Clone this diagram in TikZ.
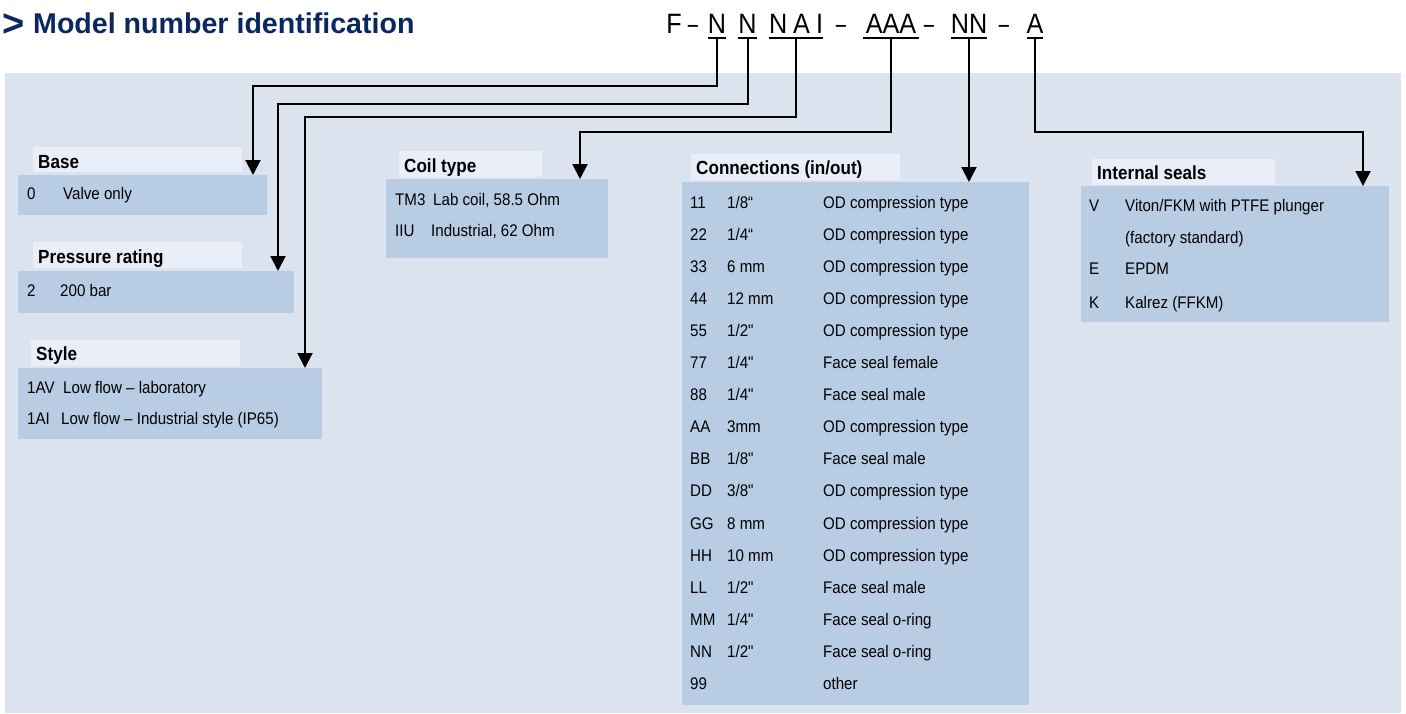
\documentclass[tikz,border=0pt]{standalone}
\usepackage{fontspec}
\setmainfont{Liberation Sans}
\newfontfamily\narrowfont[FakeStretch=0.9]{Liberation Sans}
\newfontfamily\codefont[FakeStretch=0.9]{Liberation Sans}
\newfontfamily\dashfont[FakeStretch=0.65]{Liberation Sans}
\usetikzlibrary{arrows.meta}
\definecolor{panelc}{RGB}{219,227,239}
\definecolor{boxc}{RGB}{184,204,228}
\definecolor{titlec}{RGB}{233,238,248}
\definecolor{navy}{RGB}{10,40,95}
\begin{document}
\begin{tikzpicture}[x=1pt,y=-1pt,
  conn/.style={line width=2pt,-{Triangle[width=15pt,length=15pt]}},
  boxstyle/.style={fill=boxc,inner sep=0pt,outer sep=0pt,anchor=north west},
  titlebg/.style={fill=titlec,inner sep=0pt,outer sep=0pt,anchor=north west},
  txt/.style={font=\narrowfont\fontsize{16.8}{20}\selectfont,anchor=base west,inner sep=0pt},
  ttl/.style={font=\narrowfont\bfseries\fontsize{19}{22}\selectfont,anchor=base west,inner sep=0pt},
  code/.style={font=\codefont\fontsize{28}{32}\selectfont,anchor=base,inner sep=0pt},
  dsh/.style={font=\dashfont\fontsize{28}{32}\selectfont,anchor=base,inner sep=0pt},
  uline/.style={line width=2.5pt}
]
\useasboundingbox (0,0) rectangle (1406,713);
% panel
\node[fill=panelc,inner sep=0pt,anchor=north west,minimum width=1396pt,minimum height=640pt] (panel) at (5,73) {};
% heading
\node[anchor=base west,inner sep=0pt,text=navy,font=\bfseries\fontsize{38}{40}\selectfont] (chev) at (2,36) {>};
\node[anchor=base west,inner sep=0pt,text=navy,font=\bfseries\fontsize{28.6}{32}\selectfont] (head) at (33,33) {Model number identification};
% model code
\node[code] (cF) at (674,33) {F};
\node[dsh] (d1) at (693,33) {–};
\node[code,minimum width=18pt] (cN1) at (717,33) {N};
\node[code,minimum width=19pt] (cN2) at (747.5,33) {N};
\node[code,minimum width=54pt] (cNAI) at (796,33) {N\kern6pt A\kern6pt I};
\node[dsh] (d2) at (841,33) {–};
\node[code,minimum width=56pt] (cAAA) at (891,33) {AAA};
\node[dsh] (d3) at (929,33) {–};
\node[code,minimum width=36pt] (cNN) at (969,33) {NN};
\node[dsh] (d4) at (1004,33) {–};
\node[code,minimum width=16pt] (cA) at (1035,33) {A};
\foreach \n/\a/\b in {N1/708/726,N2/738/757,NAI/769/823,AAA/863/919,NN/951/987,A/1027/1043}{
  \draw[uline] (\a,38) -- (\b,38);
  \coordinate (u\n) at ({(\a+\b)/2},38);
}
% Base
\node[titlebg,minimum width=209pt,minimum height=25pt] (baseT) at (33,147) {};
\node[ttl] (baseTt) at (38,168) {Base};
\node[boxstyle,minimum width=249pt,minimum height=40pt] (baseBox) at (18,175) {};
\node[txt] (b1a) at (27,199) {0};
\node[txt] (b1b) at (63,199) {Valve only};
% Pressure
\node[titlebg,minimum width=209pt,minimum height=26pt] (presT) at (33,242) {};
\node[ttl] (presTt) at (38,263) {Pressure rating};
\node[boxstyle,minimum width=276pt,minimum height=42pt] (presBox) at (18,271) {};
\node[txt] (p1a) at (27,296) {2};
\node[txt] (p1b) at (60,296) {200 bar};
% Style
\node[titlebg,minimum width=209pt,minimum height=26pt] (stylT) at (31,340) {};
\node[ttl] (stylTt) at (36,360) {Style};
\node[boxstyle,minimum width=304pt,minimum height=71pt] (stylBox) at (18,368) {};
\node[txt] (s1a) at (27,393) {1AV};
\node[txt] (s1b) at (63,393) {Low flow – laboratory};
\node[txt] (s2a) at (27,424) {1AI};
\node[txt] (s2b) at (61,424) {Low flow – Industrial style (IP65)};
% Coil
\node[titlebg,minimum width=143pt,minimum height=26pt] (coilT) at (399,151) {};
\node[ttl] (coilTt) at (404,172) {Coil type};
\node[boxstyle,minimum width=222pt,minimum height=79pt] (coilBox) at (386,179) {};
\node[txt] (c1a) at (395,205) {TM3};
\node[txt] (c1b) at (433,205) {Lab coil, 58.5 Ohm};
\node[txt] (c2a) at (395,236) {IIU};
\node[txt] (c2b) at (431,236) {Industrial, 62 Ohm};
% Connections
\node[titlebg,minimum width=209pt,minimum height=26pt] (connT) at (691,154) {};
\node[ttl] (connTt) at (696,174) {Connections (in/out)};
\node[boxstyle,minimum width=347pt,minimum height=523pt] (connBox) at (682,182) {};
\foreach \i/\c/\s/\d in {0/11/{1/8“}/OD compression type,
  1/22/{1/4“}/OD compression type,
  2/33/6 mm/OD compression type,
  3/44/12 mm/OD compression type,
  4/55/{1/2"}/OD compression type,
  5/77/{1/4"}/Face seal female,
  6/88/{1/4"}/Face seal male,
  7/AA/3mm/OD compression type,
  8/BB/{1/8"}/Face seal male,
  9/DD/{3/8"}/OD compression type,
  10/GG/8 mm/OD compression type,
  11/HH/10 mm/OD compression type,
  12/LL/{1/2"}/Face seal male,
  13/MM/{1/4"}/Face seal o-ring,
  14/NN/{1/2"}/Face seal o-ring,
  15/99//other}{
  \node[txt] (cc\i) at (690,{208+32.1*\i}) {\c};
  \node[txt] (cs\i) at (727,{208+32.1*\i}) {\s};
  \node[txt] (cd\i) at (823,{208+32.1*\i}) {\d};
}
% Internal seals
\node[titlebg,minimum width=183pt,minimum height=26pt] (sealT) at (1092,159) {};
\node[ttl] (sealTt) at (1097,179) {Internal seals};
\node[boxstyle,minimum width=308pt,minimum height=136pt] (sealBox) at (1081,186) {};
\node[txt] (e1a) at (1089,211) {V};
\node[txt] (e1b) at (1125,211) {Viton/FKM with PTFE plunger};
\node[txt] (e2b) at (1125,243) {(factory standard)};
\node[txt] (e3a) at (1089,274) {E};
\node[txt] (e3b) at (1125,274) {EPDM};
\node[txt] (e4a) at (1089,308) {K};
\node[txt] (e4b) at (1125,308) {Kalrez (FFKM)};
% arrow targets
\coordinate (baseIn) at (253,175);
\coordinate (presIn) at (278,271);
\coordinate (stylIn) at (305,368);
\coordinate (coilIn) at (580,179);
\coordinate (connIn) at (969,182);
\coordinate (sealIn) at (1363,186);
% connectors
\draw[conn] (uN1) -- (uN1 |- 0,86) -| (baseIn);
\draw[conn] (uN2) -- (uN2 |- 0,104) -| (presIn);
\draw[conn] (uNAI) -- (uNAI |- 0,117) -| (stylIn);
\draw[conn] (uAAA) -- (uAAA |- 0,132) -| (coilIn);
\draw[conn] (uNN) -- (connIn);
\draw[conn] (uA) -- (uA |- 0,132) -| (sealIn);
\end{tikzpicture}
\end{document}
